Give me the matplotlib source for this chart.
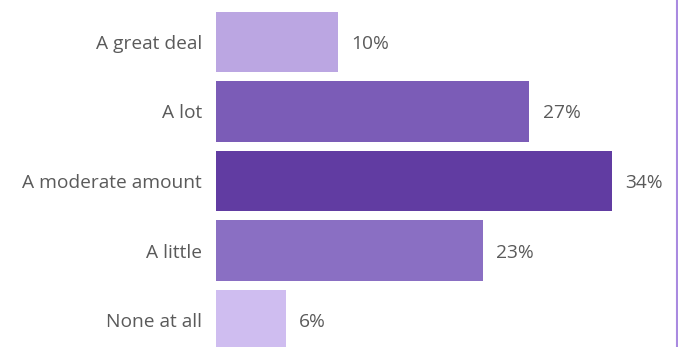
import matplotlib
matplotlib.use('Agg')
import matplotlib.pyplot as plt

categories = ['A great deal', 'A lot', 'A moderate amount', 'A little', 'None at all']
values = [10.5, 26.9, 34.0, 22.9, 6.0]
value_labels = ['10%', '27%', '34%', '23%', '6%']
bar_colors = ['#bba6e2', '#7b5cb7', '#613ca2', '#8a6fc3', '#cfbdf0']

plt.rcParams['font.family'] = ['Open Sans', 'DejaVu Sans']
text_color = '#5a5a5a'

fig = plt.figure(figsize=(6.78, 3.47), dpi=100)
ax = fig.add_axes([216 / 678, 0, 461 / 678, 1])

y = list(range(len(categories)))
ax.barh(y, values, height=0.865, color=bar_colors)

for yi, v, lab in zip(y, values, value_labels):
    ax.annotate(lab, (v, yi), xytext=(9.5, 0), textcoords='offset points',
                va='center_baseline', ha='left', fontsize=13.8, color=text_color)

ax.set_yticks(y)
ax.set_yticklabels(categories, fontsize=13.8, color=text_color, va='center_baseline')
ax.tick_params(axis='y', length=0, pad=10)
ax.set_xticks([])
ax.set_xlim(0, 461 / 11.65)
ax.set_ylim(4.388, -0.604)

for s in ['top', 'bottom', 'left']:
    ax.spines[s].set_visible(False)
ax.spines['right'].set_color('#a98ae0')
ax.spines['right'].set_linewidth(1.5)

fig.savefig('out.png', dpi=100)
